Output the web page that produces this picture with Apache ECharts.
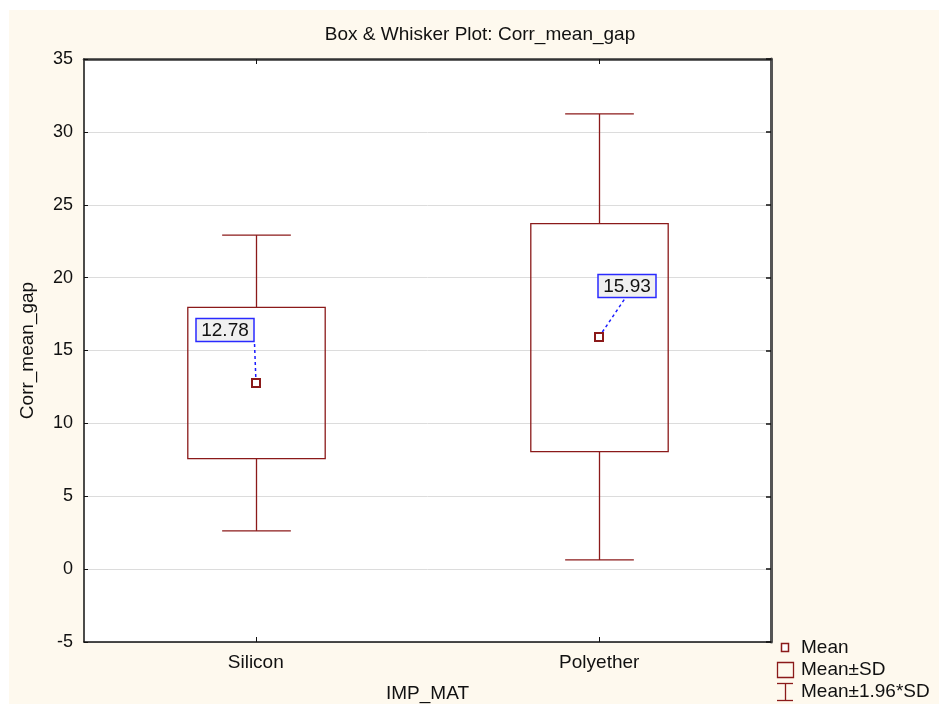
<!DOCTYPE html>
<html>
<head>
<meta charset="utf-8">
<script src="https://cdn.jsdelivr.net/npm/echarts@6/dist/echarts.min.js"></script>
<style>
html,body{margin:0;padding:0;background:#ffffff;}
#chart{width:939px;height:706px;}
</style>
</head>
<body>
<div id="chart"></div>
<script>
var categories = ['Silicon', 'Polyether'];
var means = [12.78, 15.93];
var boxLow = [7.58, 8.06];
var boxHigh = [17.96, 23.70];
var whiskerLow = [2.62, 0.63];
var whiskerHigh = [22.92, 31.23];
var meanLabels = ['12.78', '15.93'];
var yTicks = [-5, 0, 5, 10, 15, 20, 25, 30, 35];

var RED = '#8b1a1a';
var FONT = 'Liberation Sans, Arial, sans-serif';
// label placement offsets (pixels, relative to mean marker)
var labelOffsets = [[-31, -53], [28, -51]];
var lineEnds = [[-1.5, -40], [27, -40]];

var boxData = categories.map(function (c, i) {
  return [i, whiskerLow[i], boxLow[i], boxHigh[i], whiskerHigh[i], means[i]];
});

var chart = echarts.init(document.getElementById('chart'), null, {renderer: 'canvas'});

function renderBox(params, api) {
  var idx = api.value(0);
  var band = api.size([1, 0])[0];
  var c = api.coord([idx, api.value(5)]);
  var pWl = api.coord([idx, api.value(1)]);
  var pBl = api.coord([idx, api.value(2)]);
  var pBh = api.coord([idx, api.value(3)]);
  var pWh = api.coord([idx, api.value(4)]);
  var x = Math.round(c[0]) + 0.5;
  var bw = band * 0.4 / 2;
  var cw = band * 0.2 / 2;
  var st = {stroke: RED, lineWidth: 1.3, fill: null};
  return {
    type: 'group',
    children: [
      {type: 'line', shape: {x1: x, y1: pWh[1], x2: x, y2: pBh[1]}, style: st},
      {type: 'line', shape: {x1: x, y1: pBl[1], x2: x, y2: pWl[1]}, style: st},
      {type: 'line', shape: {x1: x - cw, y1: pWh[1], x2: x + cw, y2: pWh[1]}, style: st},
      {type: 'line', shape: {x1: x - cw, y1: pWl[1], x2: x + cw, y2: pWl[1]}, style: st},
      {type: 'rect', shape: {x: x - bw, y: pBh[1], width: bw * 2, height: pBl[1] - pBh[1]}, style: {stroke: RED, lineWidth: 1.3, fill: 'rgba(255,255,255,0)'}}
    ]
  };
}

function renderMean(params, api) {
  var i = params.dataIndex;
  var c = api.coord([api.value(0), api.value(5)]);
  var x = Math.round(c[0]);
  var y = Math.round(c[1]);
  var off = labelOffsets[i];
  var le = lineEnds[i];
  var lw = 58, lh = 23;
  return {
    type: 'group',
    children: [
      {type: 'line', shape: {x1: x, y1: y, x2: x + le[0], y2: y + le[1]},
        style: {stroke: '#1a1aff', lineWidth: 1.5, lineDash: [3, 3]}},
      {type: 'rect', shape: {x: x - 4, y: y - 4, width: 8, height: 8},
        style: {stroke: RED, lineWidth: 2, fill: '#ffffff'}},
      {type: 'rect', shape: {x: x + off[0] - lw / 2, y: y + off[1] - lh / 2, width: lw, height: lh},
        style: {stroke: '#2a2aff', lineWidth: 1.5, fill: '#f0f0f0'}},
      {type: 'text', x: x + off[0], y: y + off[1] + 1,
        style: {text: meanLabels[i], font: '19px ' + FONT, fill: '#111', align: 'center', verticalAlign: 'middle'}}
    ]
  };
}

var option = {
  animation: false,
  backgroundColor: '#ffffff',
  graphic: [
    {type: 'rect', z: -10, shape: {x: 9, y: 10, width: 930, height: 694}, style: {fill: '#fef9ee'}},
    {type: 'text', x: 480, y: 35, style: {text: 'Box & Whisker Plot: Corr_mean_gap', font: '19px ' + FONT, fill: '#111', align: 'center', verticalAlign: 'middle'}},
    // legend
    {type: 'rect', shape: {x: 781.5, y: 643.5, width: 7, height: 8}, style: {stroke: RED, lineWidth: 1.5, fill: '#fff'}},
    {type: 'text', x: 801, y: 648, style: {text: 'Mean', font: '19px ' + FONT, fill: '#111', verticalAlign: 'middle'}},
    {type: 'rect', shape: {x: 777.5, y: 662.5, width: 16, height: 15}, style: {stroke: RED, lineWidth: 1.3, fill: 'rgba(0,0,0,0)'}},
    {type: 'text', x: 801, y: 670, style: {text: 'Mean±SD', font: '19px ' + FONT, fill: '#111', verticalAlign: 'middle'}},
    {type: 'polyline', shape: {points: [[777, 683.5], [793, 683.5]]}, style: {stroke: RED, lineWidth: 1.3}},
    {type: 'polyline', shape: {points: [[785.5, 683.5], [785.5, 700.5]]}, style: {stroke: RED, lineWidth: 1.3}},
    {type: 'polyline', shape: {points: [[777, 700.5], [793, 700.5]]}, style: {stroke: RED, lineWidth: 1.3}},
    {type: 'text', x: 801, y: 692, style: {text: 'Mean±1.96*SD', font: '19px ' + FONT, fill: '#111', verticalAlign: 'middle'}}
  ],
  grid: {left: 84, right: 168, top: 59, bottom: 64, show: true, backgroundColor: '#ffffff',
    borderColor: '#555555', borderWidth: 0, outerBoundsMode: 'none', containLabel: false},
  xAxis: [{
    type: 'category', data: categories, position: 'bottom',
    name: 'IMP_MAT', nameLocation: 'middle', nameGap: 42,
    nameTextStyle: {fontFamily: FONT, fontSize: 19, color: '#111'},
    axisLine: {show: true, onZero: false, lineStyle: {color: '#111', width: 1.5}},
    axisTick: {show: true, inside: true, alignWithLabel: true, length: 5, lineStyle: {color: '#111'}},
    axisLabel: {fontFamily: FONT, fontSize: 19, color: '#111', margin: 11},
    splitLine: {show: false}
  }, {
    type: 'category', data: categories, position: 'top',
    axisLine: {show: true, onZero: false, lineStyle: {color: '#333', width: 2.5}},
    axisTick: {show: true, inside: true, alignWithLabel: true, length: 5, lineStyle: {color: '#111'}},
    axisLabel: {show: false}
  }],
  yAxis: [{
    type: 'value', min: -5, max: 35, interval: 5, position: 'left',
    name: 'Corr_mean_gap', nameLocation: 'middle', nameGap: 47,
    nameTextStyle: {fontFamily: FONT, fontSize: 19, color: '#111'},
    axisLine: {show: true, onZero: false, lineStyle: {color: '#111', width: 1.5}},
    axisTick: {show: true, inside: true, length: 4, lineStyle: {color: '#111'}},
    axisLabel: {fontFamily: FONT, fontSize: 18, color: '#111', margin: 11,
      customValues: yTicks},
    splitLine: {show: true, lineStyle: {color: '#dcdcdc', width: 1}}
  }, {
    type: 'value', min: -5, max: 35, interval: 5, position: 'right',
    axisLine: {show: true, onZero: false, lineStyle: {color: '#555', width: 3}},
    axisTick: {show: true, inside: true, length: 5, lineStyle: {color: '#111', width: 1.5}},
    axisLabel: {show: false},
    splitLine: {show: false}
  }],
  series: [{
    type: 'custom', name: 'Mean±SD', xAxisIndex: 0, yAxisIndex: 0,
    renderItem: renderBox, data: boxData,
    encode: {x: 0, y: [1, 2, 3, 4, 5]}, z: 2
  }, {
    type: 'custom', name: 'Mean', xAxisIndex: 0, yAxisIndex: 0,
    renderItem: renderMean, data: boxData,
    encode: {x: 0, y: [5]}, z: 3
  }]
};
chart.setOption(option);
</script>
</body>
</html>
